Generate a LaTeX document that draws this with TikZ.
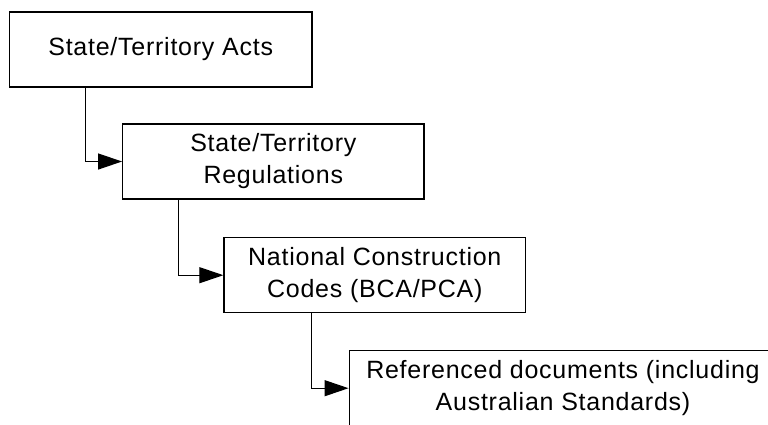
\documentclass[tikz,border=0pt]{standalone}
\usepackage{fontspec}
\setmainfont{Liberation Sans}[LetterSpace=3]
\usetikzlibrary{arrows.meta}
\begin{document}
\begin{tikzpicture}[x=1pt,y=-1pt,
  box/.style={draw=black,line width=1.2pt,fill=white,rectangle,inner sep=0pt,
    minimum height=75pt,align=center,font=\fontsize{25}{32}\selectfont},
  arr/.style={line width=1.2pt,-{Triangle[length=24pt,width=16pt]}}]
\clip (0,0) rectangle (768,424);
\fill[white] (0,0) rectangle (768,424);
\node[box,minimum width=302.7pt] (b1) at (160.7,49.5) {State/Territory Acts};
\node[box,minimum width=301.3pt] (b2) at (273.3,161.5) {State/Territory\\Regulations};
\node[box,minimum width=301.7pt] (b3) at (374.8,275.2) {National Construction\\Codes (BCA/PCA)};
\node[box,minimum width=427.7pt] (b4) at (563,388.2) {Referenced documents (including\\Australian Standards)};
\draw[arr] ([xshift=76.7pt]b1.south west) |- (b2.west);
\draw[arr] ([xshift=56.3pt]b2.south west) |- (b3.west);
\draw[arr] ([xshift=88pt]b3.south west) |- (b4.west);
\end{tikzpicture}
\end{document}
